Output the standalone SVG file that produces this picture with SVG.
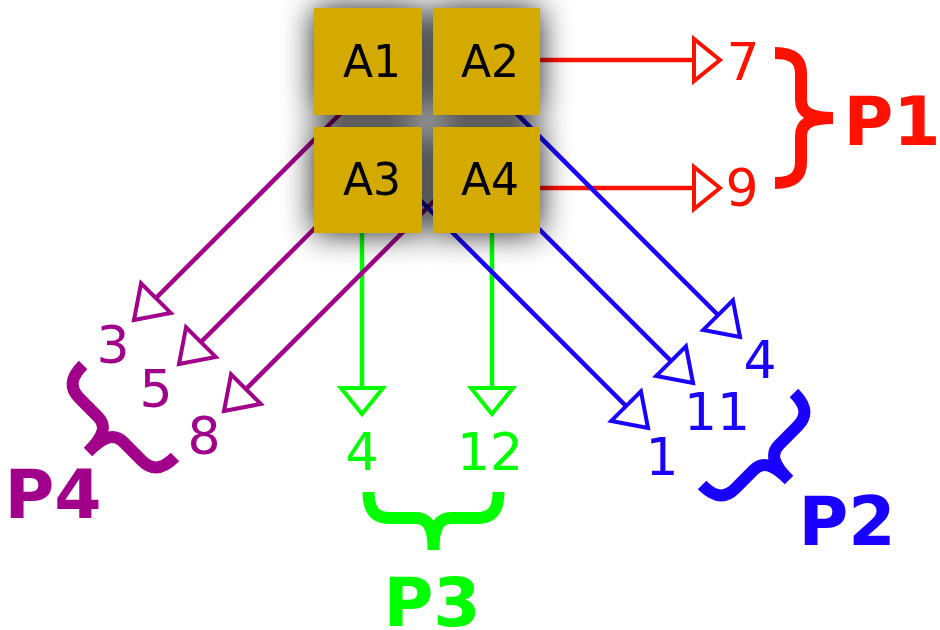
<svg xmlns="http://www.w3.org/2000/svg" xmlns:xlink="http://www.w3.org/1999/xlink" width="940" height="630" viewBox="0 0 940 630">
  <style>
    .box { fill: #d4aa00; }
    .nlab { font-family: "DejaVu Sans", "Liberation Sans", sans-serif; font-size: 44px; fill: #000; text-anchor: middle; }
    .num { font-family: "DejaVu Sans", "Liberation Sans", sans-serif; font-size: 52px; text-anchor: middle; }
    .plab { font-family: "DejaVu Sans", "Liberation Sans", sans-serif; font-size: 68px; font-weight: bold; text-anchor: middle; }
    .conn { fill: none; stroke-width: 4.5; }
    .brace { fill: none; stroke-width: 12; stroke-linecap: butt; stroke-linejoin: round; }
    .red { stroke: #ff1100; }
    .green { stroke: #00ff00; }
    .blue { stroke: #1a00ff; }
    .purple { stroke: #a0008a; }
    .tred { fill: #ff1100; }
    .tgreen { fill: #00ff00; }
    .tblue { fill: #1a00ff; }
    .tpurple { fill: #a0008a; }
  </style>
  <defs>
    <filter id="shadow" x="-60%" y="-60%" width="220%" height="220%">
      <feGaussianBlur in="SourceAlpha" stdDeviation="16"/>
      <feComponentTransfer><feFuncA type="linear" slope="0.9"/></feComponentTransfer>
      <feMerge><feMergeNode/><feMergeNode in="SourceGraphic"/></feMerge>
    </filter>
    <marker id="mRed" markerUnits="userSpaceOnUse" markerWidth="10" markerHeight="10" refX="0" refY="0" orient="auto" overflow="visible">
      <path d="M0,0 L-26,-21 L-26,21 Z" fill="#fff" stroke="#ff1100" stroke-width="4"/>
    </marker>
    <marker id="mGreen" markerUnits="userSpaceOnUse" markerWidth="10" markerHeight="10" refX="0" refY="0" orient="auto" overflow="visible">
      <path d="M0,0 L-26,-21 L-26,21 Z" fill="#fff" stroke="#00ff00" stroke-width="4"/>
    </marker>
    <marker id="mBlue" markerUnits="userSpaceOnUse" markerWidth="10" markerHeight="10" refX="0" refY="0" orient="auto" overflow="visible">
      <path d="M0,0 L-31,-21 L-31,21 Z" fill="#fff" stroke="#1a00ff" stroke-width="4"/>
    </marker>
    <marker id="mPurple" markerUnits="userSpaceOnUse" markerWidth="10" markerHeight="10" refX="0" refY="0" orient="auto" overflow="visible">
      <path d="M0,0 L-31,-21 L-31,21 Z" fill="#fff" stroke="#a0008a" stroke-width="4"/>
    </marker>
    <path id="brace" d="M0,-65 C16,-65 26,-60 26,-44 L26,-18 C26,-6 34,0 58,0 M0,65 C16,65 26,60 26,44 L26,18 C26,6 34,0 58,0"/>
  </defs>

  <g id="connectors">
    <line class="conn red" x1="500" y1="60" x2="720" y2="60" marker-end="url(#mRed)"/>
    <line class="conn red" x1="500" y1="188" x2="720" y2="188" marker-end="url(#mRed)"/>
    <line class="conn green" x1="362" y1="200" x2="362" y2="414" marker-end="url(#mGreen)"/>
    <line class="conn green" x1="492" y1="200" x2="492" y2="414" marker-end="url(#mGreen)"/>
    <line class="conn purple" x1="355" y1="99" x2="134" y2="320" marker-end="url(#mPurple)"/>
    <line class="conn purple" x1="330" y1="213" x2="179" y2="364" marker-end="url(#mPurple)"/>
    <line class="conn purple" x1="435" y1="200" x2="224" y2="411" marker-end="url(#mPurple)"/>
    <line class="conn blue" x1="410" y1="190" x2="648" y2="428" marker-end="url(#mBlue)"/>
    <line class="conn blue" x1="470" y1="160" x2="693" y2="383" marker-end="url(#mBlue)"/>
    <line class="conn blue" x1="505" y1="102" x2="740" y2="337" marker-end="url(#mBlue)"/>
  </g>

  <g id="nodes" filter="url(#shadow)">
    <g id="A1"><rect class="box" x="314" y="8" width="108" height="107"/><text class="nlab" x="372" y="77">A1</text></g>
    <g id="A2"><rect class="box" x="433" y="8" width="107" height="107"/><text class="nlab" x="490" y="77">A2</text></g>
    <g id="A3"><rect class="box" x="314" y="127" width="108" height="106"/><text class="nlab" x="372" y="195">A3</text></g>
    <g id="A4"><rect class="box" x="433" y="127" width="107" height="106"/><text class="nlab" x="490" y="195">A4</text></g>
  </g>

  <g id="P1">
    <text class="num tred" x="743" y="80">7</text>
    <text class="num tred" x="742" y="206">9</text>
    <use xlink:href="#brace" class="brace red" transform="translate(775,118)"/>
    <text class="plab tred" x="892" y="145">P1</text>
  </g>
  <g id="P2">
    <text class="num tblue" x="760" y="378">4</text>
    <text class="num tblue" x="717" y="430">11</text>
    <text class="num tblue" x="662" y="475">1</text>
    <use xlink:href="#brace" class="brace blue" transform="translate(748,439) rotate(45)"/>
    <text class="plab tblue" x="847" y="545">P2</text>
  </g>
  <g id="P3">
    <text class="num tgreen" x="362" y="470">4</text>
    <text class="num tgreen" x="490" y="470">12</text>
    <use xlink:href="#brace" class="brace green" transform="translate(433.5,492) rotate(90)"/>
    <text class="plab tgreen" x="432" y="626">P3</text>
  </g>
  <g id="P4">
    <text class="num tpurple" x="113" y="363">3</text>
    <text class="num tpurple" x="156" y="407">5</text>
    <text class="num tpurple" x="204" y="454">8</text>
    <use xlink:href="#brace" class="brace purple" transform="translate(129,411) rotate(135)"/>
    <text class="plab tpurple" x="53" y="518">P4</text>
  </g>
</svg>
